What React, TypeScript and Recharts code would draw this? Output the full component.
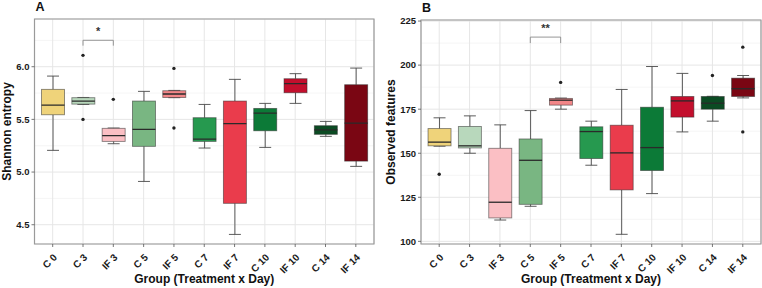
import React from 'react';
import {
  ComposedChart, Bar, Scatter, XAxis, YAxis, CartesianGrid, ReferenceLine,
  ReferenceDot, ReferenceArea, Cell, Label,
} from 'recharts';

const groups = ['C 0', 'C 3', 'IF 3', 'C 5', 'IF 5', 'C 7', 'IF 7', 'C 10', 'IF 10', 'C 14', 'IF 14'];
const palette = ['#EFD37A', '#B8D8BC', '#FBBFC4', '#79B682', '#F28688', '#26994F', '#EA3C4C', '#0C7A37', '#C30F2D', '#0B4B23', '#7A0613'];

// Panel A: Shannon entropy
const shannonLow = [5.206, 5.642, 5.269, 4.911, 5.706, 5.228, 4.408, 5.234, 5.652, 5.339, 5.054];
const shannonQ1 = [5.544, 5.645, 5.291, 5.244, 5.708, 5.291, 4.703, 5.392, 5.753, 5.358, 5.104];
const shannonMedian = [5.636, 5.674, 5.345, 5.405, 5.741, 5.313, 5.459, 5.56, 5.839, 5.4, 5.465];
const shannonQ3 = [5.785, 5.706, 5.415, 5.674, 5.772, 5.516, 5.674, 5.604, 5.886, 5.44, 5.829];
const shannonHigh = [5.911, 5.708, 5.418, 5.766, 5.775, 5.642, 5.88, 5.652, 5.934, 5.481, 5.987];
const shannonOutlierGroup = ['C 3', 'C 3', 'IF 3', 'IF 5', 'IF 5'];
const shannonOutlierValue = [6.108, 5.5, 5.69, 5.984, 5.418];
const shannonTicks = [4.5, 5.0, 5.5, 6.0];
const shannonMinor = [4.75, 5.25, 5.75, 6.25];
const shannonDomain = [4.317, 6.453];
const shannonSig = { from: 'C 3', to: 'IF 3', level: 6.251, drop: 6.2, starAt: 6.346, label: '*' };

// Panel B: Observed features
const featLow = [154.0, 150.0, 112.1, 119.9, 175.0, 143.2, 104.0, 127.1, 162.1, 168.2, 181.4];
const featQ1 = [154.2, 153.0, 113.3, 121.0, 177.3, 147.0, 129.2, 140.2, 170.5, 175.0, 182.2];
const featMedian = [156.3, 154.2, 122.2, 146.0, 180.1, 162.3, 150.2, 153.2, 179.7, 178.4, 186.6];
const featQ3 = [164.0, 165.2, 152.8, 158.1, 181.1, 165.0, 165.9, 176.1, 182.2, 182.2, 192.6];
const featHigh = [170.1, 171.2, 166.1, 174.2, 181.3, 168.2, 186.2, 199.2, 195.3, 182.3, 194.1];
const featOutlierGroup = ['C 0', 'IF 5', 'C 14', 'IF 14', 'IF 14'];
const featOutlierValue = [138.1, 190.2, 194.1, 210.2, 162.1];
const featTicks = [100, 125, 150, 175, 200, 225];
const featMinor = [112.5, 137.5, 162.5, 187.5, 212.5];
const featDomain = [98.5, 225.6];
const featSig = { from: 'C 5', to: 'IF 5', level: 215.9, drop: 212.5, starAt: 221.5, label: '**' };

const FONT = '"Liberation Sans", Arial, Helvetica, sans-serif';
const positions = groups.map((_, i) => i + 1);

const buildRows = (low: number[], q1: number[], med: number[], q3: number[], high: number[]) =>
  groups.map((g, i) => ({ pos: i + 1, name: g, low: low[i], q1: q1[i], med: med[i], q3: q3[i], high: high[i] }));

const buildOutliers = (grp: string[], val: number[]) =>
  grp.map((g, i) => ({ pos: groups.indexOf(g) + 1, value: val[i] }));

const BoxShape = (props: any) => {
  const { x, y, width, height, payload, fill } = props;
  if (!payload) return null;
  const top = Math.min(y, y + height);
  const h = Math.abs(height);
  const { low, q1, med, q3, high } = payload;
  const py = (v: number) => top + ((high - v) / (high - low)) * h;
  const cx = x + width / 2;
  const cap = width * 0.26;
  const wc = '#4a4a4a';
  return (
    <g>
      <line x1={cx} x2={cx} y1={py(high)} y2={py(q3)} stroke={wc} strokeWidth={0.9} />
      <line x1={cx} x2={cx} y1={py(q1)} y2={py(low)} stroke={wc} strokeWidth={0.9} />
      <line x1={cx - cap} x2={cx + cap} y1={py(high)} y2={py(high)} stroke={wc} strokeWidth={0.9} />
      <line x1={cx - cap} x2={cx + cap} y1={py(low)} y2={py(low)} stroke={wc} strokeWidth={0.9} />
      <rect x={x} y={py(q3)} width={width} height={Math.max(py(q1) - py(q3), 0.5)} fill={fill}
        stroke="rgba(40,40,40,0.55)" strokeWidth={0.9} />
      <line x1={x} x2={x + width} y1={py(med)} y2={py(med)} stroke="#2a2a2a" strokeWidth={1.3} />
    </g>
  );
};

const XTick = (props: any) => {
  const { x, y, payload } = props;
  const ax = x + 5;
  const ay = y + 9;
  return (
    <text x={ax} y={ay} transform={`rotate(-45 ${ax} ${ay})`} textAnchor="end" fontSize={10}
      fontWeight="bold" fill="#1a1a1a" fontFamily={FONT}>
      {groups[payload.value - 1]}
    </text>
  );
};

type PanelProps = {
  width: number;
  tag: string;
  yTitle: string;
  yAxisWidth: number;
  yTitleX: number;
  top: number;
  right: number;
  rows: any[];
  outliers: any[];
  ticks: number[];
  minor: number[];
  domain: number[];
  fmt: (v: number) => string;
  sig: { from: string; to: string; level: number; drop: number; starAt: number; label: string };
};

const Panel = (p: PanelProps) => {
  const x1 = groups.indexOf(p.sig.from) + 1;
  const x2 = groups.indexOf(p.sig.to) + 1;
  const sigColor = '#8a8a8a';
  return (
    <ComposedChart width={p.width} height={288} data={p.rows}
      margin={{ top: p.top, right: p.right, bottom: 0, left: 0 }}>
      <CartesianGrid yAxisId="minor" vertical={false} stroke="#F3F3F3" strokeWidth={0.8} />
      <CartesianGrid stroke="#E6E6E6" strokeWidth={1} />
      <XAxis type="number" dataKey="pos" domain={[0.4, 11.6]} ticks={positions} interval={0}
        allowDataOverflow height={44} tick={<XTick />} tickSize={3} tickMargin={2}
        axisLine={false} tickLine={{ stroke: '#555', strokeWidth: 0.8 }}>
        <Label content={(lp: any) => {
          const vb = lp.viewBox || {};
          return (
            <text x={vb.x + vb.width / 2} y={283} textAnchor="middle" fontSize={12} fontWeight="bold"
              fill="#111" fontFamily={FONT}>Group (Treatment x Day)</text>
          );
        }} />
      </XAxis>
      <YAxis yAxisId="minor" hide type="number" domain={p.domain} ticks={p.minor} allowDataOverflow />
      <YAxis type="number" domain={p.domain} ticks={p.ticks} allowDataOverflow width={p.yAxisWidth}
        tickFormatter={p.fmt} tickSize={3} tickMargin={2} axisLine={false}
        tickLine={{ stroke: '#555', strokeWidth: 0.8 }}
        tick={{ fontSize: 9.5, fontWeight: 'bold', fill: '#1a1a1a', fontFamily: FONT }}>
        <Label content={(lp: any) => {
          const vb = lp.viewBox || {};
          const cy = vb.y + vb.height / 2;
          return (
            <g>
              <text x={p.yTitleX} y={cy} transform={`rotate(-90 ${p.yTitleX} ${cy})`} textAnchor="middle"
                fontSize={12} fontWeight="bold" fill="#111" fontFamily={FONT}>{p.yTitle}</text>
              <text x={vb.x + vb.width + 1} y={p.top - 8} fontSize={12.5} fontWeight="bold" fill="#111"
                fontFamily={FONT}>{p.tag}</text>
            </g>
          );
        }} />
      </YAxis>
      <Bar dataKey={(d: any) => [d.low, d.high]} barSize={23} shape={<BoxShape />} isAnimationActive={false}>
        {p.rows.map((r, i) => <Cell key={r.name} fill={palette[i]} />)}
      </Bar>
      <Scatter data={p.outliers} dataKey="value" isAnimationActive={false}
        shape={(s: any) => <circle cx={s.cx} cy={s.cy} r={1.7} fill="#222" />} />
      <ReferenceLine segment={[{ x: x1, y: p.sig.level }, { x: x2, y: p.sig.level }]} stroke={sigColor} strokeWidth={0.9} />
      <ReferenceLine segment={[{ x: x1, y: p.sig.level }, { x: x1, y: p.sig.drop }]} stroke={sigColor} strokeWidth={0.9} />
      <ReferenceLine segment={[{ x: x2, y: p.sig.level }, { x: x2, y: p.sig.drop }]} stroke={sigColor} strokeWidth={0.9} />
      <ReferenceDot x={(x1 + x2) / 2} y={p.sig.starAt} r={0}
        shape={(s: any) => (
          <text x={s.cx} y={s.cy + 4.5} textAnchor="middle" fontSize={11} fontWeight="bold" fill="#333"
            fontFamily={FONT}>{p.sig.label}</text>
        )} />
      <ReferenceArea x1={0.4} x2={11.6} y1={p.domain[0]} y2={p.domain[1]} fill="none" fillOpacity={0}
        stroke="#9a9a9a" strokeWidth={1.2} />
    </ComposedChart>
  );
};

export default function App() {
  const rowsA = buildRows(shannonLow, shannonQ1, shannonMedian, shannonQ3, shannonHigh);
  const rowsB = buildRows(featLow, featQ1, featMedian, featQ3, featHigh);
  const outA = buildOutliers(shannonOutlierGroup, shannonOutlierValue);
  const outB = buildOutliers(featOutlierGroup, featOutlierValue);
  return (
    <div style={{ position: 'absolute', left: 0, top: 0, width: 762, height: 288, background: '#fff' }}>
      <div style={{ position: 'absolute', left: 0, top: 0 }}>
        <Panel width={380} tag="A" yTitle="Shannon entropy" yAxisWidth={34.5} yTitleX={10.6} top={19} right={6}
          rows={rowsA} outliers={outA} ticks={shannonTicks} minor={shannonMinor} domain={shannonDomain}
          fmt={(v) => v.toFixed(1)} sig={shannonSig} />
      </div>
      <div style={{ position: 'absolute', left: 380, top: 0 }}>
        <Panel width={382} tag="B" yTitle="Observed features" yAxisWidth={41} yTitleX={15} top={20} right={1}
          rows={rowsB} outliers={outB} ticks={featTicks} minor={featMinor} domain={featDomain}
          fmt={(v) => String(v)} sig={featSig} />
      </div>
    </div>
  );
}
